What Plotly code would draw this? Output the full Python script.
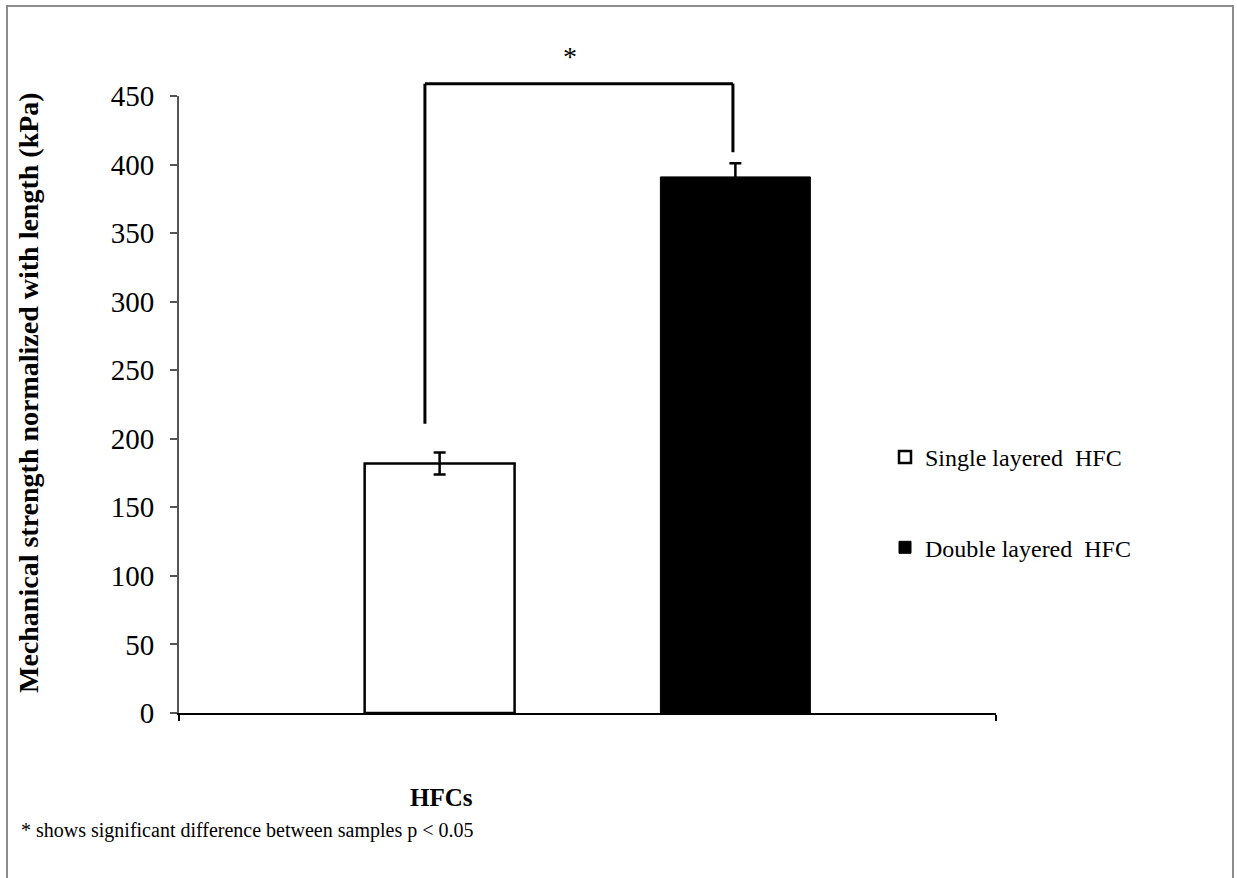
import plotly.graph_objects as go

categories = ["HFCs"]
series_names = ["Single layered  HFC", "Double layered  HFC"]
single_values = [182]
single_errors = [8]
double_values = [391]
double_errors = [10]
y_ticks = [0, 50, 100, 150, 200, 250, 300, 350, 400, 450]
y_max = 450

# significance bracket (category-axis units / data units)
bracket_x = [-0.199, 0.178]
bracket_y_top = 459
bracket_y_left = 211
bracket_y_right = 409
star_x = -0.021
star_label = "*"
footnote = "* shows significant difference between samples p < 0.05"
y_title = "Mechanical strength normalized with length (kPa)"
x_title = "HFCs"

FONT = "Liberation Serif, Times New Roman, serif"


def py(v):
    # data value -> paper fraction on the fixed y range
    return v / y_max


fig = go.Figure()
fig.add_trace(go.Bar(
    x=categories, y=single_values, name=series_names[0],
    marker=dict(color="white", line=dict(color="black", width=2.5)),
    error_y=dict(type="data", array=single_errors, color="black", thickness=2.5, width=6),
    legendgroup="a",
))
fig.add_trace(go.Bar(
    x=categories, y=double_values, name=series_names[1],
    marker=dict(color="black", line=dict(color="black", width=1)),
    error_y=dict(type="data", array=double_errors, color="black", thickness=2.5, width=6),
    legendgroup="b",
))

# bracket (y in paper units so it can rise above the axis range)
line_style = dict(color="black", width=3)
fig.add_shape(type="line", x0=bracket_x[0], x1=bracket_x[0], y0=py(bracket_y_left), y1=py(bracket_y_top),
              xref="x", yref="paper", line=line_style)
fig.add_shape(type="line", x0=bracket_x[0], x1=bracket_x[1], y0=py(bracket_y_top), y1=py(bracket_y_top),
              xref="x", yref="paper", line=line_style)
fig.add_shape(type="line", x0=bracket_x[1], x1=bracket_x[1], y0=py(bracket_y_right), y1=py(bracket_y_top),
              xref="x", yref="paper", line=line_style)
fig.add_annotation(x=star_x, y=py(bracket_y_top), xref="x", yref="paper",
                   text=star_label, showarrow=False, yanchor="bottom", yshift=10,
                   font=dict(family=FONT, size=28, color="black"))

# outer frame
fig.add_shape(type="rect", xref="paper", yref="paper",
              x0=(7 - 179) / 817, x1=(1233 - 179) / 817,
              y0=-(885 - 713) / 617, y1=(713 - 6) / 617,
              line=dict(color="#8c8c8c", width=2), layer="below")

# y-axis title
fig.add_annotation(x=(28 - 179) / 817, y=(713 - 393) / 617, xref="paper", yref="paper",
                   text="<b>" + y_title + "</b>", textangle=-90, showarrow=False,
                   xanchor="center", yanchor="middle",
                   font=dict(family=FONT, size=28, color="black"))
# x-axis title
fig.add_annotation(x=(441 - 179) / 817, y=-(797 - 713) / 617, xref="paper", yref="paper",
                   text="<b>" + x_title + "</b>", showarrow=False,
                   xanchor="center", yanchor="middle",
                   font=dict(family=FONT, size=25, color="black"))
# footnote
fig.add_annotation(x=(19 - 179) / 817, y=-(830 - 713) / 617, xref="paper", yref="paper",
                   text=footnote, showarrow=False, xanchor="left", yanchor="middle",
                   font=dict(family=FONT, size=20, color="black"))

fig.update_layout(
    width=1237, height=878,
    margin=dict(l=179, r=241, t=96, b=165),
    paper_bgcolor="white", plot_bgcolor="white",
    barmode="group", bargap=0.276, bargroupgap=0.493,
    font=dict(family=FONT, color="black"),
    showlegend=True,
    legend=dict(x=(885 - 179) / 817, y=(713 - 435) / 617, xanchor="left", yanchor="top",
                font=dict(family=FONT, size=24, color="black"),
                tracegroupgap=56, bgcolor="rgba(0,0,0,0)", itemwidth=30),
    xaxis=dict(
        type="category", range=[-0.5, 0.5], showline=True, linecolor="black", linewidth=2,
        ticks="outside", tickson="boundaries", ticklen=6, tickcolor="black", tickwidth=2,
        showticklabels=False, showgrid=False, zeroline=False,
    ),
    yaxis=dict(
        range=[0, y_max], tickvals=y_ticks, showline=True, linecolor="#555", linewidth=2,
        ticks="outside", ticklen=7, tickcolor="#555", tickwidth=1.5,
        tickfont=dict(family=FONT, size=29, color="black"), ticklabelstandoff=10,
        showgrid=False, zeroline=False,
    ),
)

fig.write_html("out.html")
